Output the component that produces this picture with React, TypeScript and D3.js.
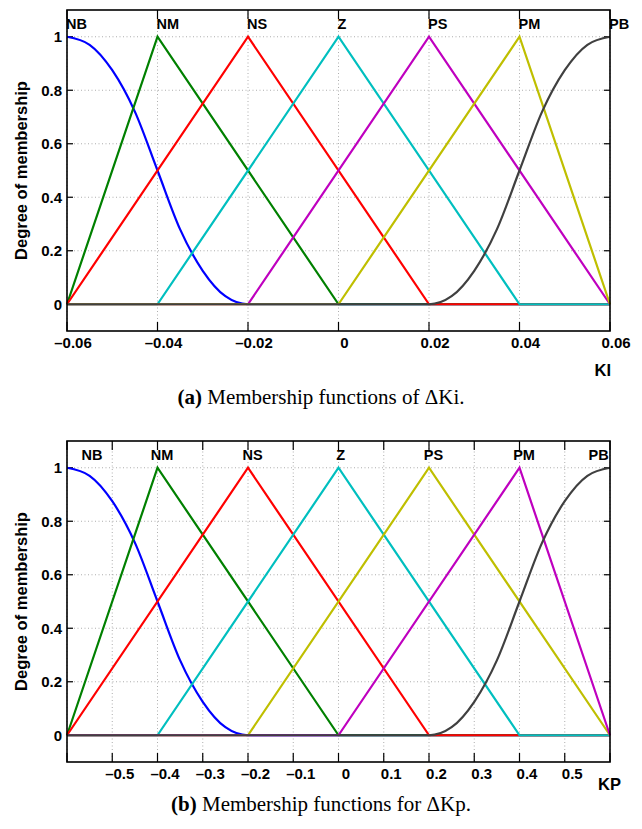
import React from "react";
import * as d3 from "d3";

// ---------- Data ----------
const mfNames = ["NB", "NM", "NS", "Z", "PS", "PM", "PB"];

// Panel (a): ΔKi
const xTicksA = [-0.06, -0.04, -0.02, 0, 0.02, 0.04, 0.06];
const xTickLabelsA = ["\u20130.06", "\u20130.04", "\u20130.02", "0", "0.02", "0.04", "0.06"];
const labelPosA = [-0.06, -0.04, -0.02, 0, 0.02, 0.04, 0.06];

const nbA_x = [-0.06, -0.055, -0.05, -0.045, -0.04, -0.035, -0.03, -0.025, -0.02, 0.06];
const nbA_y = [1, 0.97, 0.875, 0.72, 0.5, 0.28, 0.125, 0.03, 0, 0];
const nmA_x = [-0.06, -0.04, 0, 0.06];
const nmA_y = [0, 1, 0, 0];
const nsA_x = [-0.06, -0.02, 0.02, 0.06];
const nsA_y = [0, 1, 0, 0];
const zA_x = [-0.06, -0.04, 0, 0.04, 0.06];
const zA_y = [0, 0, 1, 0, 0];
const psA_x = [-0.06, -0.02, 0.02, 0.06];
const psA_y = [0, 0, 1, 0];
const pmA_x = [-0.06, 0, 0.04, 0.06];
const pmA_y = [0, 0, 1, 0];
const pbA_x = [-0.06, 0.02, 0.025, 0.03, 0.035, 0.04, 0.045, 0.05, 0.055, 0.06];
const pbA_y = [0, 0, 0.03, 0.125, 0.28, 0.5, 0.72, 0.875, 0.97, 1];

// Panel (b): ΔKp
const xTicksB = [-0.6, -0.5, -0.4, -0.3, -0.2, -0.1, 0, 0.1, 0.2, 0.3, 0.4, 0.5, 0.6];
const xTickLabelsB = ["", "\u20130.5", "\u20130.4", "\u20130.3", "\u20130.2", "\u20130.1", "0", "0.1", "0.2", "0.3", "0.4", "0.5", ""];
const labelPosB = [-0.545, -0.39, -0.19, 0.005, 0.21, 0.41, 0.575];

const nbB_x = [-0.6, -0.55, -0.5, -0.45, -0.4, -0.35, -0.3, -0.25, -0.2, 0.6];
const nbB_y = [1, 0.97, 0.875, 0.72, 0.5, 0.28, 0.125, 0.03, 0, 0];
const nmB_x = [-0.6, -0.4, 0, 0.6];
const nmB_y = [0, 1, 0, 0];
const nsB_x = [-0.6, -0.2, 0.2, 0.6];
const nsB_y = [0, 1, 0, 0];
const zB_x = [-0.6, -0.4, 0, 0.4, 0.6];
const zB_y = [0, 0, 1, 0, 0];
const psB_x = [-0.6, -0.2, 0.2, 0.6];
const psB_y = [0, 0, 1, 0];
const pmB_x = [-0.6, 0, 0.4, 0.6];
const pmB_y = [0, 0, 1, 0];
const pbB_x = [-0.6, 0.2, 0.25, 0.3, 0.35, 0.4, 0.45, 0.5, 0.55, 0.6];
const pbB_y = [0, 0, 0.03, 0.125, 0.28, 0.5, 0.72, 0.875, 0.97, 1];

const yTicks = [0, 0.2, 0.4, 0.6, 0.8, 1];
const yTickLabels = ["0", "0.2", "0.4", "0.6", "0.8", "1"];

// ---------- Styles ----------
const colorsA = ["#0000ff", "#008000", "#ff0000", "#00bfbf", "#bf00bf", "#bfbf00", "#404040"];
const colorsB = ["#0000ff", "#008000", "#ff0000", "#00bfbf", "#bfbf00", "#bf00bf", "#404040"];
const smoothFlags = [true, false, false, false, false, false, true];

const SANS = "'Liberation Sans', Arial, Helvetica, sans-serif";
const SERIF = "'Liberation Serif', 'Times New Roman', serif";

type PanelProps = {
  top: number;
  bottom: number;
  left: number;
  right: number;
  domain: [number, number];
  xTicks: number[];
  xTickLabels: string[];
  labelPos: number[];
  labelAnchor: string;
  labelDx: number;
  tickDx: number;
  series: { x: number[]; y: number[] }[];
  colors: string[];
  axisName: string;
  axisNameX: number;
  axisNameY: number;
  axisNameAnchor: string;
  tickLabelY: number;
};

function Panel(p: PanelProps) {
  const x = d3.scaleLinear().domain(p.domain).range([p.left, p.right]);
  const y = d3.scaleLinear().domain([-0.1, 1.1]).range([p.bottom, p.top]);
  const smooth = d3
    .line<[number, number]>()
    .x((d) => x(d[0]))
    .y((d) => y(d[1]))
    .curve(d3.curveMonotoneX);
  const linear = d3
    .line<[number, number]>()
    .x((d) => x(d[0]))
    .y((d) => y(d[1]));
  const midY = (p.top + p.bottom) / 2;
  return (
    <g>
      {p.xTicks.map((t, i) => (
        <line
          key={"gx" + i}
          x1={x(t)}
          x2={x(t)}
          y1={p.top}
          y2={p.bottom}
          stroke="#999"
          strokeWidth={0.8}
          strokeDasharray="1,2.5"
        />
      ))}
      {yTicks.map((t, i) => (
        <line
          key={"gy" + i}
          x1={p.left}
          x2={p.right}
          y1={y(t)}
          y2={y(t)}
          stroke="#999"
          strokeWidth={0.8}
          strokeDasharray="1,2.5"
        />
      ))}
      {p.xTicks.map((t, i) => (
        <g key={"tx" + i}>
          <line x1={x(t)} x2={x(t)} y1={p.bottom} y2={p.bottom - 9} stroke="#000" strokeWidth={1.2} />
          <line x1={x(t)} x2={x(t)} y1={p.top} y2={p.top + 9} stroke="#000" strokeWidth={1.2} />
        </g>
      ))}
      {yTicks.map((t, i) => (
        <g key={"ty" + i}>
          <line x1={p.left} x2={p.left + 6} y1={y(t)} y2={y(t)} stroke="#000" strokeWidth={1.2} />
          <line x1={p.right} x2={p.right - 6} y1={y(t)} y2={y(t)} stroke="#000" strokeWidth={1.2} />
        </g>
      ))}
      {p.series.map((s, i) => {
        const pts = s.x.map((v, j) => [v, s.y[j]] as [number, number]);
        const d = smoothFlags[i] ? smooth(pts) : linear(pts);
        return (
          <path
            key={"s" + i}
            d={d || ""}
            fill="none"
            stroke={p.colors[i]}
            strokeWidth={2.2}
            strokeLinejoin="miter"
          />
        );
      })}
      <rect
        x={p.left}
        y={p.top}
        width={p.right - p.left}
        height={p.bottom - p.top}
        fill="none"
        stroke="#000"
        strokeWidth={1.6}
      />
      {mfNames.map((n, i) => (
        <text
          key={"l" + i}
          x={x(p.labelPos[i]) + p.labelDx}
          y={p.top + 19}
          fontFamily={SANS}
          fontWeight="bold"
          fontSize={14.5}
          textAnchor={p.labelAnchor}
          fill="#000"
        >
          {n}
        </text>
      ))}
      {p.xTicks.map((t, i) => (
        <text
          key={"xl" + i}
          x={x(t) + p.tickDx}
          y={p.tickLabelY}
          fontFamily={SANS}
          fontWeight="bold"
          fontSize={15}
          textAnchor="middle"
          fill="#000"
        >
          {p.xTickLabels[i]}
        </text>
      ))}
      {yTicks.map((t, i) => (
        <text
          key={"yl" + i}
          x={p.left - 5}
          y={y(t)}
          dy="0.36em"
          fontFamily={SANS}
          fontWeight="bold"
          fontSize={15}
          textAnchor="end"
          fill="#000"
        >
          {yTickLabels[i]}
        </text>
      ))}
      <text
        transform={`translate(27,${midY}) rotate(-90)`}
        fontFamily={SANS}
        fontWeight="bold"
        fontSize={16.5}
        textAnchor="middle"
        fill="#000"
      >
        Degree of membership
      </text>
      <text
        x={p.axisNameX}
        y={p.axisNameY}
        fontFamily={SANS}
        fontWeight="bold"
        fontSize={16.5}
        textAnchor={p.axisNameAnchor}
        fill="#000"
      >
        {p.axisName}
      </text>
    </g>
  );
}

export default function App() {
  const seriesA = [
    { x: nbA_x, y: nbA_y },
    { x: nmA_x, y: nmA_y },
    { x: nsA_x, y: nsA_y },
    { x: zA_x, y: zA_y },
    { x: psA_x, y: psA_y },
    { x: pmA_x, y: pmA_y },
    { x: pbA_x, y: pbA_y },
  ];
  const seriesB = [
    { x: nbB_x, y: nbB_y },
    { x: nmB_x, y: nmB_y },
    { x: nsB_x, y: nsB_y },
    { x: zB_x, y: zB_y },
    { x: psB_x, y: psB_y },
    { x: pmB_x, y: pmB_y },
    { x: pbB_x, y: pbB_y },
  ];
  return (
    <svg
      width={642}
      height={829}
      style={{ position: "absolute", left: 0, top: 0, background: "#fff" }}
    >
      <rect x={0} y={0} width={642} height={829} fill="#fff" />
      <Panel
        top={10}
        bottom={331}
        left={67}
        right={610}
        domain={[-0.06, 0.06]}
        xTicks={xTicksA}
        xTickLabels={xTickLabelsA}
        labelPos={labelPosA}
        labelAnchor="start"
        labelDx={-1}
        tickDx={6}
        series={seriesA}
        colors={colorsA}
        axisName="KI"
        axisNameX={611}
        axisNameY={376}
        axisNameAnchor="end"
        tickLabelY={348}
      />
      <text x={321} y={404} fontFamily={SERIF} fontSize={21} textAnchor="middle" fill="#000">
        <tspan fontWeight="bold">(a)</tspan> Membership functions of ΔKi.
      </text>
      <Panel
        top={441}
        bottom={762}
        left={67}
        right={610}
        domain={[-0.6, 0.6]}
        xTicks={xTicksB}
        xTickLabels={xTickLabelsB}
        labelPos={labelPosB}
        labelAnchor="middle"
        labelDx={0}
        tickDx={7.5}
        series={seriesB}
        colors={colorsB}
        axisName="KP"
        axisNameX={598}
        axisNameY={790}
        axisNameAnchor="start"
        tickLabelY={779}
      />
      <text x={321} y={811} fontFamily={SERIF} fontSize={21} textAnchor="middle" fill="#000">
        <tspan fontWeight="bold">(b)</tspan> Membership functions for ΔKp.
      </text>
    </svg>
  );
}
